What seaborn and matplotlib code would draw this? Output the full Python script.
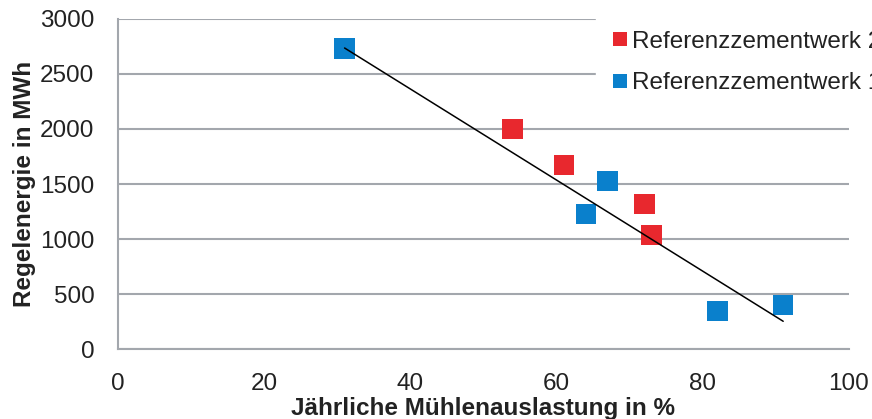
import pandas as pd
import matplotlib
matplotlib.use("Agg")
import matplotlib.pyplot as plt
import seaborn as sns

# Data
werk2_auslastung = [54, 61, 72, 73]
werk2_energie = [2000, 1673, 1318, 1036]
werk1_auslastung = [31, 64, 67, 82, 91]
werk1_energie = [2730, 1227, 1527, 345, 400]
labels = ["Referenzzementwerk 2", "Referenzzementwerk 1"]

data = pd.DataFrame({
    "Auslastung": werk2_auslastung + werk1_auslastung,
    "Energie": werk2_energie + werk1_energie,
    "Werk": [labels[0]] * len(werk2_auslastung) + [labels[1]] * len(werk1_auslastung),
})

sns.set_style("white")
plt.rcParams["font.family"] = ["Liberation Sans", "DejaVu Sans"]

fig = plt.figure(figsize=(8.72, 4.19), dpi=100)
ax = fig.add_axes([0.1353, 0.167, 0.8383, 0.7877])

grid_col = "#a3a7ad"
ax.set_axisbelow(True)
ax.yaxis.grid(True, color=grid_col, linewidth=1.5)

sns.scatterplot(data=data, x="Auslastung", y="Energie", hue="Werk",
                palette={labels[0]: "#e8282e", labels[1]: "#0a80cc"},
                marker="s", s=220, edgecolor="none", ax=ax, zorder=3)

# linear trend of Referenzzementwerk 1
sns.regplot(x=werk1_auslastung, y=werk1_energie, scatter=False, ci=None,
            color="black", line_kws={"linewidth": 1.1, "zorder": 4}, ax=ax)

ax.set_xlim(0, 100)
ax.set_ylim(0, 3000)
ax.set_xticks([0, 20, 40, 60, 80, 100])
ax.set_yticks([0, 500, 1000, 1500, 2000, 2500, 3000])

for side in ["top", "right"]:
    ax.spines[side].set_visible(False)
for side in ["left", "bottom"]:
    ax.spines[side].set_color(grid_col)
    ax.spines[side].set_linewidth(1.5)
ax.tick_params(axis="both", direction="out", length=7, width=1.5, color=grid_col,
               labelsize=17.5, labelcolor="#222222")
ax.tick_params(axis="x", pad=10)
ax.tick_params(axis="y", pad=10)

ax.set_xlabel("Jährliche Mühlenauslastung in %", fontsize=17.5, fontweight="bold",
              labelpad=2, color="#222222")
ax.set_ylabel("Regelenergie in MWh", fontsize=17.5, fontweight="bold",
              labelpad=3, color="#222222")

# legend sits partly outside the figure, as in the reference
handles, _ = ax.get_legend_handles_labels()
leg = ax.legend(handles=handles, labels=labels, loc="upper left",
                bbox_to_anchor=(596 / 872, 1 - 16 / 419), bbox_transform=fig.transFigure,
                frameon=True, fancybox=False, fontsize=17.5, markerscale=0.7,
                handletextpad=0.1, handlelength=0.8, borderpad=0.6,
                labelspacing=0.8, borderaxespad=0)
leg.get_frame().set_edgecolor("white")
leg.get_frame().set_facecolor("white")
leg.get_frame().set_alpha(1)
for t in leg.get_texts():
    t.set_color("#222222")

fig.savefig("out.png", dpi=100)
